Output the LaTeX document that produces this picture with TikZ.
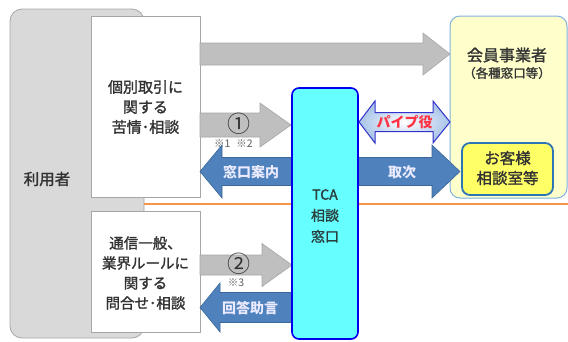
\documentclass[tikz,border=0pt]{standalone}
\usepackage{fontspec}
\setmainfont{Noto Sans CJK JP}[FakeBold=1.5]
\newfontfamily\jpplain{Noto Sans CJK JP}
\usetikzlibrary{shadings}
\definecolor{txt}{HTML}{333333}
\definecolor{userfill}{HTML}{D9D9D9}
\definecolor{userdraw}{HTML}{A6A6A6}
\definecolor{grayarr}{HTML}{BFBFBF}
\definecolor{grayarrd}{HTML}{A6A6A6}
\definecolor{bluearr}{HTML}{4F81BD}
\definecolor{bluearrd}{HTML}{3A6699}
\definecolor{tcafill}{HTML}{66FFFF}
\definecolor{tcadraw}{HTML}{0000EE}
\definecolor{memfill}{HTML}{FFFFCC}
\definecolor{memdraw}{HTML}{7FB2DD}
\definecolor{csfill}{HTML}{FFFF66}
\definecolor{csdraw}{HTML}{2E75B6}
\definecolor{orangeline}{HTML}{F79646}
\definecolor{pipered}{HTML}{FF3344}
\definecolor{pipedraw}{HTML}{3333CC}
\definecolor{pipeouter}{HTML}{A9C4E8}
% block arrow: start x, head base x, tip x, centre y, body half, head half
\newcommand\blockarr[6]{(#1,#4-#5) -- (#2,#4-#5) -- (#2,#4-#6) -- (#3,#4) -- (#2,#4+#6) -- (#2,#4+#5) -- (#1,#4+#5) -- cycle}
\tikzset{
  boxtext/.style={text=txt, font=\fontsize{15}{20}\selectfont, align=center, inner sep=0pt},
  whitebox/.style={draw=userdraw, fill=white, line width=0.8pt},
  grayarrow/.style={draw=grayarrd, fill=grayarr, line width=0.6pt},
  bluearrow/.style={draw=bluearrd, fill=bluearr, line width=0.6pt},
  arrtext/.style={text=white!92!blue, font=\jpplain\fontsize{14}{16}\selectfont\bfseries, inner sep=0pt},
  note/.style={text=txt!80, font=\jpplain\fontsize{10.5}{11}\selectfont, inner sep=0pt},
  numtext/.style={text=txt, font=\jpplain\fontsize{23}{24}\selectfont, inner sep=0pt},
}
\begin{document}
\begin{tikzpicture}[x=1pt,y=-1pt]
\useasboundingbox (0,0) rectangle (568,341);
% user box
\draw[fill=userfill, draw=userdraw, line width=0.8pt, rounded corners=12pt] (10,9) rectangle (144,338);
\coordinate (userE) at (144,204);
\node[boxtext, font=\fontsize{15.5}{18}\selectfont] (user) at (47,179) {利用者};
% orange line
\coordinate (lineR) at (568,204);
\draw[orangeline, line width=1.6pt] (userE) -- (lineR);
% white boxes
\draw[whitebox] (91,16) rectangle (200,197);
\node[boxtext] (q1) at (145.5,107) {個別取引に\\関する\\苦情･相談};
\draw[whitebox] (91,211) rectangle (200,332);
\node[boxtext, font=\fontsize{14.5}{20}\selectfont] (q2) at (145.5,273) {通信一般、\\業界ルールに\\関する\\問合せ･相談};
% member box
\draw[fill=memfill, draw=memdraw, line width=1pt, rounded corners=10pt] (450,16) rectangle (567,198);
\node[boxtext, font=\fontsize{16}{18}\selectfont] (mem) at (507,55) {会員事業者};
\node[boxtext, font=\fontsize{12.5}{14}\selectfont] (mem2) at (507,73) {（各種窓口等）};
\draw[fill=csfill, draw=csdraw, line width=1.8pt, rounded corners=8pt] (462,143) rectangle (553,195);
\node[boxtext, font=\fontsize{15.5}{20}\selectfont] (cs) at (507.5,168) {お客様\\相談室等};
% gray arrows
\draw[grayarrow] \blockarr{200}{423}{450}{54}{11}{21};
\draw[grayarrow] \blockarr{200}{260}{291}{125}{12}{22};
\node[numtext] (n1) at (238.5,124) {①};
\node[note] (note1) at (233.5,144) {※1\hspace{6pt}※2};
\draw[grayarrow] \blockarr{200}{262}{292}{265}{10}{21.5};
\node[numtext] (n2) at (238.5,264) {②};
\node[note] (note2) at (236,283) {※3};
% blue arrows
\draw[bluearrow] \blockarr{293}{222}{200}{171.5}{14}{26.5};
\node[arrtext] (a1) at (251,172) {窓口案内};
\draw[bluearrow] \blockarr{293}{220}{200}{307.5}{15}{24.5};
\node[arrtext] (a2) at (250,308) {回答助言};
\draw[bluearrow] \blockarr{357}{432}{460}{171.5}{14}{26.5};
\node[arrtext] (a3) at (402,172) {取次};
% TCA
\draw[fill=tcafill, draw=tcadraw, line width=1.6pt, rounded corners=7pt] (292,88) rectangle (358,339);
\node[boxtext, font=\fontsize{14}{21}\selectfont, text=txt!85!teal] (tca) at (325,216) {TCA\\相談\\窓口};
% pipe arrow
\draw[draw=pipedraw, line width=1pt, inner color=white, outer color=pipeouter]
  (359,122) -- (375,101) -- (375,112.5) -- (433,112.5) -- (433,101) -- (450,122)
  -- (433,143) -- (433,131.5) -- (375,131.5) -- (375,143) -- cycle;
\node[text=pipered, font=\jpplain\fontsize{14}{16}\selectfont\bfseries, inner sep=0pt] (pipe) at (404.5,122) {パイプ役};
\end{tikzpicture}
\end{document}
